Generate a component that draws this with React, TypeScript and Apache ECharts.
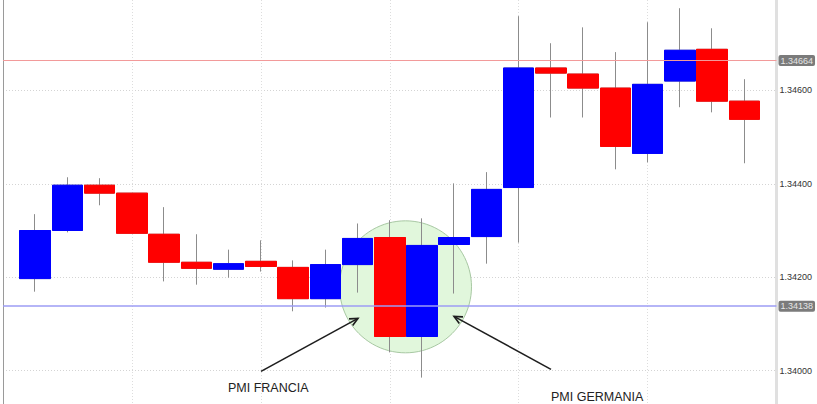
import React, { useEffect, useRef } from "react";
import * as echarts from "echarts";

// 23 candles on a 25-slot axis (first and last slot empty)
const categories = [
  "0", "1", "2", "3", "4", "5", "6", "7", "8", "9", "10", "11", "12",
  "13", "14", "15", "16", "17", "18", "19", "20", "21", "22", "23", "24",
];
const opens = [
  1.34197, 1.34300, 1.34397, 1.34380, 1.34292, 1.34232, 1.34217, 1.34234,
  1.34221, 1.34154, 1.34227, 1.34285, 1.34073, 1.34270, 1.34287, 1.34392,
  1.34648, 1.34635, 1.34605, 1.34465, 1.34620, 1.34688, 1.34577,
];
const closes = [
  1.34300, 1.34397, 1.34380, 1.34294, 1.34232, 1.34219, 1.34229, 1.34223,
  1.34154, 1.34227, 1.34283, 1.34073, 1.34268, 1.34285, 1.34388, 1.34648,
  1.34637, 1.34605, 1.34480, 1.34613, 1.34686, 1.34577, 1.34538,
];
const lows = [
  1.34169, 1.34296, 1.34354, 1.34294, 1.34191, 1.34184, 1.34199, 1.34212,
  1.34127, 1.34135, 1.34167, 1.34039, 1.33985, 1.34165, 1.34229, 1.34274,
  1.34542, 1.34542, 1.34431, 1.34446, 1.34564, 1.34553, 1.34444,
];
const highs = [
  1.34335, 1.34414, 1.34412, 1.34380, 1.34350, 1.34292, 1.34259, 1.34279,
  1.34236, 1.34259, 1.34315, 1.34322, 1.34326, 1.34401, 1.34425, 1.34759,
  1.34701, 1.34735, 1.34682, 1.34746, 1.34776, 1.34733, 1.34624,
];
const yTicks = { min: 1.338, max: 1.348, interval: 0.002 };
const markerValues = { upper: 1.34664, lower: 1.34138 };
const annotations = ["PMI FRANCIA", "PMI GERMANIA"];

// the chart canvas is taller than the window and shifted up; the window crops it
const SHIFT = 3.33;
const CHART_H = 466.67;

function arrow(x1: number, y1: number, x2: number, y2: number) {
  y1 += SHIFT;
  y2 += SHIFT;
  const dx = x2 - x1;
  const dy = y2 - y1;
  const len = Math.sqrt(dx * dx + dy * dy);
  const bx = -dx / len;
  const by = -dy / len;
  const a = (25 * Math.PI) / 180;
  const L = 9;
  const c = Math.cos(a);
  const s = Math.sin(a);
  const p1 = [x2 + L * (bx * c - by * s), y2 + L * (bx * s + by * c)];
  const p2 = [x2 + L * (bx * c + by * s), y2 + L * (-bx * s + by * c)];
  const st = { stroke: "#1e1e1e", lineWidth: 1.6, fill: null };
  return [
    { type: "line", z: 10, shape: { x1, y1, x2, y2 }, style: st },
    { type: "polyline", z: 10, shape: { points: [p1, [x2, y2], p2] }, style: st },
  ];
}

export default function App() {
  const ref = useRef<HTMLDivElement>(null);
  useEffect(() => {
    if (!ref.current) return;
    const chart = echarts.init(ref.current, undefined, { renderer: "svg" });
    const pad = (arr: any[]) => ["-", ...arr, "-"];
    const full = opens.map((o, i) => [o, closes[i], lows[i], highs[i]]);
    const bodies = opens.map((o, i) => [
      o,
      closes[i],
      Math.min(o, closes[i]),
      Math.max(o, closes[i]),
    ]);
    const font = "Liberation Sans, Arial, Helvetica, sans-serif";
    const labelBox = {
      show: true,
      position: "end",
      distance: 2,
      formatter: (p: any) => Number(p.value).toFixed(5),
      backgroundColor: "#7b7b7b",
      color: "#e6e6e6",
      fontSize: 9,
      fontFamily: font,
      padding: [1, 2, 1, 2],
      borderRadius: 2,
    };
    chart.setOption({
      animation: false,
      backgroundColor: "#ffffff",
      grid: {
        left: 3,
        right: 40.5,
        top: 0,
        bottom: 0,
        containLabel: false,
        outerBoundsMode: "none",
      },
      xAxis: {
        type: "category",
        data: categories,
        boundaryGap: false,
        axisLine: { show: false },
        axisTick: { show: false },
        axisLabel: { show: false },
        splitLine: {
          show: true,
          interval: 3,
          lineStyle: { color: "#dddddd", type: [1, 2], width: 1 },
        },
      },
      yAxis: [
        {
          type: "value",
          position: "right",
          min: yTicks.min,
          max: yTicks.max,
          interval: yTicks.interval,
          axisLine: { show: true, lineStyle: { color: "#e0e0e0", width: 3 } },
          axisTick: { show: false },
          axisLabel: {
            margin: 3,
            fontSize: 9,
            fontFamily: font,
            color: "#333333",
            showMinLabel: false,
            formatter: (v: number) => v.toFixed(5),
          },
          splitLine: {
            show: true,
            lineStyle: { color: "#d4d4d4", type: [1, 2], width: 1 },
          },
        },
        {
          type: "value",
          position: "left",
          min: yTicks.min,
          max: yTicks.max,
          interval: yTicks.interval,
          axisLine: { show: true, lineStyle: { color: "#9a9a9a", width: 1 } },
          axisTick: { show: false },
          axisLabel: { show: false },
          splitLine: { show: false },
        },
      ],
      series: [
        {
          type: "candlestick",
          name: "wicks",
          data: pad(full),
          barWidth: 31,
          z: 3,
          itemStyle: {
            color: "#0000ff",
            color0: "#ff0000",
            borderColor: "#8c8c8c",
            borderColor0: "#8c8c8c",
            borderWidth: 1,
          },
        },
        {
          type: "candlestick",
          name: "bodies",
          data: pad(bodies),
          barWidth: 31,
          z: 4,
          itemStyle: {
            color: "#0000ff",
            color0: "#ff0000",
            borderColor: "#0000ff",
            borderColor0: "#ff0000",
            borderWidth: 1,
          },
        },
        {
          type: "line",
          name: "levels",
          data: categories.map(() => "-"),
          yAxisIndex: 0,
          z: 2,
          silent: true,
          markLine: {
            silent: true,
            symbol: "none",
            precision: 5,
            data: [
              {
                yAxis: markerValues.upper,
                lineStyle: { color: "#f29a9a", width: 1, type: "solid" },
                label: labelBox,
              },
              {
                yAxis: markerValues.lower,
                lineStyle: { color: "#9d9df5", width: 1.5, type: "solid" },
                label: labelBox,
              },
            ],
          },
        },
      ],
      graphic: [
        {
          type: "circle",
          z: 1,
          shape: { cx: 405.5, cy: 286.5 + SHIFT, r: 66 },
          style: { fill: "#e1f7dc", stroke: "#a8c8a3", lineWidth: 1 },
        },
        ...arrow(261, 371, 358, 318),
        ...arrow(551, 369, 454, 316),
        {
          type: "text",
          z: 10,
          x: 228,
          y: 388 + SHIFT,
          style: {
            text: annotations[0],
            fill: "#222222",
            fontSize: 12.5,
            fontFamily: font,
            verticalAlign: "middle",
          },
        },
        {
          type: "text",
          z: 10,
          x: 551,
          y: 397 + SHIFT,
          style: {
            text: annotations[1],
            fill: "#222222",
            fontSize: 12.5,
            fontFamily: font,
            verticalAlign: "middle",
          },
        },
      ],
    });
    return () => chart.dispose();
  }, []);
  return (
    <div
      style={{
        position: "absolute",
        left: 0,
        top: 0,
        width: 817,
        height: 404,
        overflow: "hidden",
        background: "#ffffff",
      }}
    >
      <div
        ref={ref}
        style={{
          position: "absolute",
          left: 0,
          top: -SHIFT,
          width: 817,
          height: CHART_H,
        }}
      />
    </div>
  );
}
